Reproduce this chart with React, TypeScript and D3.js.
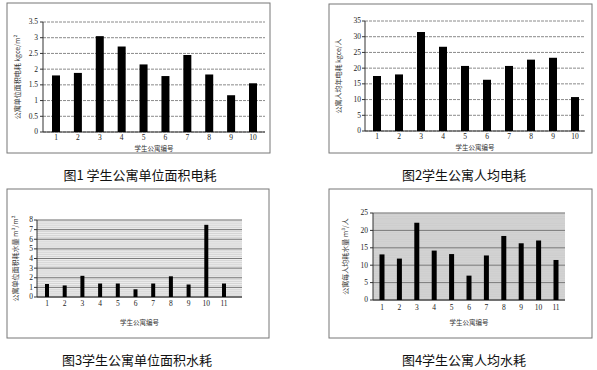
import * as d3 from "d3";

const apts10 = ["1", "2", "3", "4", "5", "6", "7", "8", "9", "10"];
const apts11 = ["1", "2", "3", "4", "5", "6", "7", "8", "9", "10", "11"];
// fig 1: electricity per unit area, fig 2: per person
const elecPerArea = [1.8, 1.88, 3.05, 2.72, 2.15, 1.78, 2.45, 1.83, 1.17, 1.55];
const elecPerPerson = [17.5, 18, 31.5, 26.8, 20.7, 16.3, 20.7, 22.7, 23.3, 10.8];
// fig 3: water per unit area, fig 4: per person
const waterPerArea = [1.35, 1.2, 2.2, 1.4, 1.4, 0.8, 1.4, 2.15, 1.3, 7.5, 1.4];
const waterPerPerson = [13.1, 11.9, 22.2, 14.2, 13.2, 7.0, 12.8, 18.4, 16.3, 17.1, 11.5];

const ticks1 = [0, 0.5, 1, 1.5, 2, 2.5, 3, 3.5];
const ticks2 = [0, 5, 10, 15, 20, 25, 30, 35];
const ticks3 = [0, 1, 2, 3, 4, 5, 6, 7, 8];
const ticks4 = [0, 5, 10, 15, 20, 25];

const SERIF = "'Liberation Serif', 'DejaVu Serif', serif";
const CJK = "'Noto Sans CJK SC', sans-serif";

interface PanelProps {
  frame: [number, number, number, number];
  plot: [number, number, number, number]; // left, top, right, bottom
  xRange: [number, number];
  cats: string[];
  values: number[];
  ticks: number[];
  barW: number;
  yTitle: string;
  yTitleX: number;
  tickX: number;
  xLabelY: number;
  xTitleY: number;
  caption: string;
  captionX: number;
  captionY: number;
  hatched?: boolean;
}

function Panel(p: PanelProps) {
  const [l, t, r, b] = p.plot;
  const max = p.ticks[p.ticks.length - 1];
  const y = d3.scaleLinear().domain([0, max]).range([b, t]);
  const x = d3.scalePoint<string>().domain(p.cats).range(p.xRange);
  const [fx, fy, fw, fh] = p.frame;
  const minor = p.hatched ? y.ticks(max * 5) : [];

  return (
    <g>
      <rect x={fx} y={fy} width={fw} height={fh} fill="#fff" stroke="#777" strokeWidth={1} />
      {p.hatched && <rect x={l} y={t} width={r - l} height={b - t} fill="#eeeeee" />}
      {minor.map((v, i) => (
        <line key={"m" + i} x1={l} x2={r} y1={y(v)} y2={y(v)} stroke="#c2c2c2" strokeWidth={0.6} />
      ))}
      {p.ticks.map((v) => (
        <g key={v}>
          <line
            x1={l}
            x2={r}
            y1={y(v)}
            y2={y(v)}
            stroke={p.hatched ? "#7a7a7a" : "#8a8a8a"}
            strokeWidth={1}
            strokeDasharray={p.hatched ? undefined : "3,1"}
          />
          <line x1={l - 3} x2={l} y1={y(v)} y2={y(v)} stroke="#333" />
          <text
            x={p.tickX}
            y={y(v)}
            dy="0.33em"
            textAnchor="end"
            fontFamily={SERIF}
            fontSize={7.5}
            fill="#222"
          >
            {v}
          </text>
        </g>
      ))}
      <line x1={l} x2={l} y1={t} y2={b} stroke="#333" />
      <line x1={l} x2={r} y1={b} y2={b} stroke="#333" />
      {p.values.map((v, i) => (
        <rect
          key={i}
          x={(x(p.cats[i]) ?? 0) - p.barW / 2}
          y={y(v)}
          width={p.barW}
          height={b - y(v)}
          fill="#000"
        />
      ))}
      {p.cats.map((c) => (
        <text
          key={c}
          x={x(c)}
          y={p.xLabelY}
          textAnchor="middle"
          fontFamily={SERIF}
          fontSize={7.5}
          fill="#222"
        >
          {c}
        </text>
      ))}
      <text
        x={(l + r) / 2}
        y={p.xTitleY}
        textAnchor="middle"
        fontFamily={CJK}
        fontSize={6.5}
        fill="#333"
      >
        学生公寓编号
      </text>
      <text
        transform={`translate(${p.yTitleX},${(t + b) / 2}) rotate(-90)`}
        textAnchor="middle"
        dy="0.35em"
        fontFamily={CJK}
        fontSize={7}
        fill="#333"
      >
        {p.yTitle}
      </text>
      <text
        x={p.captionX}
        y={p.captionY}
        textAnchor="middle"
        fontFamily={CJK}
        fontSize={13}
        fill="#111"
      >
        {p.caption}
      </text>
    </g>
  );
}

export default function App() {
  return (
    <svg width={597} height={370} style={{ position: "absolute", left: 0, top: 0, background: "#fff" }}>
      <Panel
        frame={[7, 3, 263, 150]}
        plot={[43, 22, 265, 132]}
        xRange={[56, 253]}
        cats={apts10}
        values={elecPerArea}
        ticks={ticks1}
        barW={8}
        yTitle="公寓单位面积电耗 kgce/m²"
        yTitleX={18}
        tickX={38}
        xLabelY={140}
        xTitleY={151}
        caption="图1 学生公寓单位面积电耗"
        captionX={140}
        captionY={180}
      />
      <Panel
        frame={[329, 4, 263, 149]}
        plot={[365, 21, 585, 131]}
        xRange={[377, 575]}
        cats={apts10}
        values={elecPerPerson}
        ticks={ticks2}
        barW={8}
        yTitle="公寓人均年电耗 kgce/人"
        yTitleX={339}
        tickX={361}
        xLabelY={139}
        xTitleY={150}
        caption="图2学生公寓人均电耗"
        captionX={464}
        captionY={180}
      />
      <Panel
        frame={[7, 189, 262, 149]}
        plot={[37, 220, 242, 297]}
        xRange={[47, 224]}
        cats={apts11}
        values={waterPerArea}
        ticks={ticks3}
        barW={4}
        yTitle="公寓单位面积耗水量 m³/m²"
        yTitleX={16}
        tickX={33}
        xLabelY={306}
        xTitleY={325}
        caption="图3学生公寓单位面积水耗"
        captionX={137}
        captionY={365}
        hatched
      />
      <Panel
        frame={[329, 189, 263, 149]}
        plot={[373, 213, 565, 300]}
        xRange={[382, 556]}
        cats={apts11}
        values={waterPerPerson}
        ticks={ticks4}
        barW={5}
        yTitle="公寓每人均耗水量 m³/人"
        yTitleX={346}
        tickX={368}
        xLabelY={310}
        xTitleY={325}
        caption="图4学生公寓人均水耗"
        captionX={464}
        captionY={365}
        hatched
      />
    </svg>
  );
}
